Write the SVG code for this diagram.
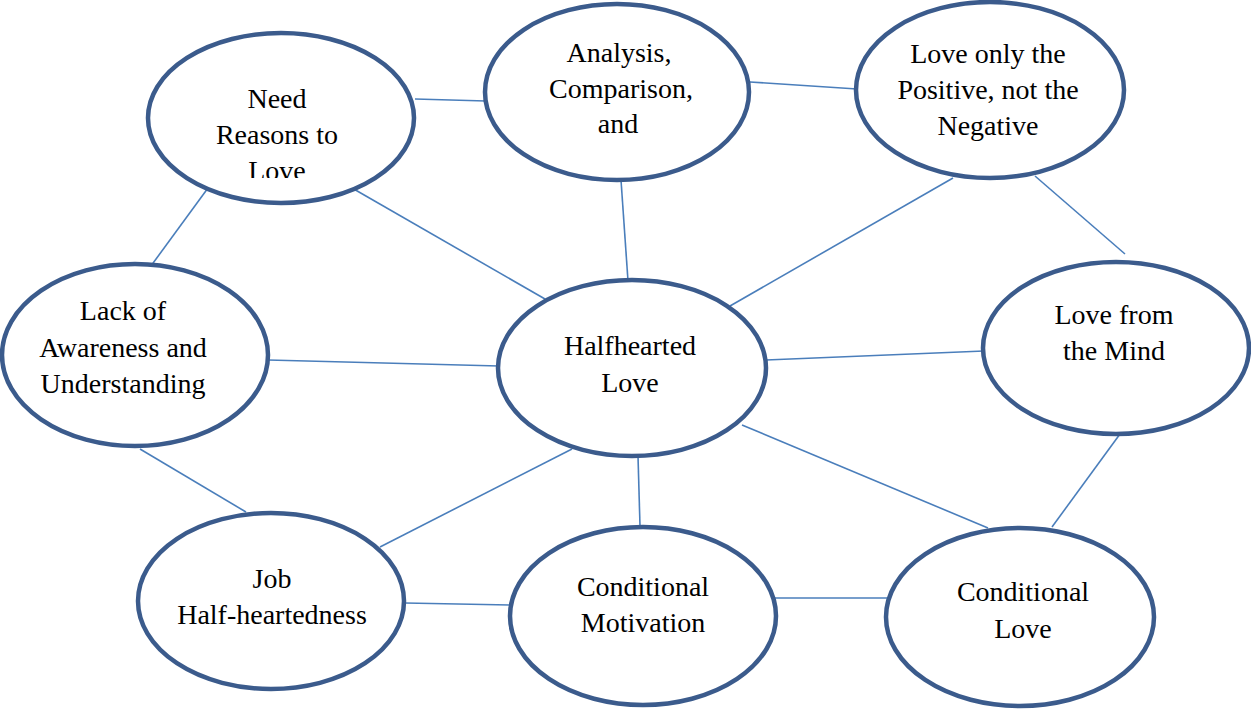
<svg xmlns="http://www.w3.org/2000/svg" width="1251" height="709" viewBox="0 0 1251 709">
  <style>
    .node ellipse { fill: #ffffff; stroke: #3b5b8c; stroke-width: 4.5; }
    .node text { font-family: "Liberation Serif", "Times New Roman", serif; font-size: 28px; fill: #000000; text-anchor: middle; }
    #connectors line { stroke: #4a7ebb; stroke-width: 1.6; }
  </style>
  <defs>
    <clipPath id="clip-reasons">
      <rect x="140" y="30" width="290" height="148"/>
    </clipPath>
  </defs>
  <rect width="1251" height="709" fill="#ffffff"/>

  <g id="connectors">
    <line x1="415" y1="99" x2="486" y2="101"/>
    <line x1="750" y1="82" x2="857" y2="89"/>
    <line x1="208" y1="188" x2="148" y2="270"/>
    <line x1="352" y1="188" x2="545" y2="299"/>
    <line x1="621" y1="180" x2="628" y2="281"/>
    <line x1="953" y1="178" x2="730" y2="306"/>
    <line x1="1035" y1="176" x2="1125" y2="254"/>
    <line x1="268" y1="360" x2="499" y2="366"/>
    <line x1="766" y1="360" x2="984" y2="351"/>
    <line x1="140" y1="449" x2="246" y2="512"/>
    <line x1="572" y1="449" x2="380" y2="547"/>
    <line x1="638" y1="456" x2="640" y2="526"/>
    <line x1="742" y1="425" x2="988" y2="528"/>
    <line x1="1120" y1="434" x2="1052" y2="527"/>
    <line x1="405" y1="603" x2="511" y2="605"/>
    <line x1="768" y1="598" x2="887" y2="598"/>
  </g>

  <g id="node-need-reasons" class="node">
    <ellipse cx="281" cy="118" rx="133" ry="85"/>
    <g clip-path="url(#clip-reasons)">
      <text x="277" y="108">Need</text>
      <text x="277" y="144">Reasons to</text>
      <text x="277" y="180">Love</text>
    </g>
  </g>

  <g id="node-analysis" class="node">
    <ellipse cx="617" cy="92" rx="132" ry="88"/>
    <text x="619" y="62">Analysis,</text>
    <text x="621" y="98">Comparison,</text>
    <text x="618" y="133">and</text>
  </g>

  <g id="node-love-positive" class="node">
    <ellipse cx="990" cy="90" rx="134" ry="88"/>
    <text x="988" y="63">Love only the</text>
    <text x="988" y="99">Positive, not the</text>
    <text x="988" y="135">Negative</text>
  </g>

  <g id="node-lack-awareness" class="node">
    <ellipse cx="135" cy="355" rx="133" ry="91"/>
    <text x="123" y="320">Lack of</text>
    <text x="123" y="357">Awareness and</text>
    <text x="123" y="393">Understanding</text>
  </g>

  <g id="node-halfhearted" class="node">
    <ellipse cx="632" cy="368" rx="134" ry="88"/>
    <text x="630" y="355">Halfhearted</text>
    <text x="630" y="392">Love</text>
  </g>

  <g id="node-love-mind" class="node">
    <ellipse cx="1116" cy="348" rx="133" ry="86"/>
    <text x="1114" y="324">Love from</text>
    <text x="1114" y="360">the Mind</text>
  </g>

  <g id="node-job" class="node">
    <ellipse cx="271" cy="601" rx="133" ry="88"/>
    <text x="272" y="588">Job</text>
    <text x="272" y="624">Half-heartedness</text>
  </g>

  <g id="node-conditional-motivation" class="node">
    <ellipse cx="643" cy="616" rx="133" ry="89"/>
    <text x="643" y="596">Conditional</text>
    <text x="643" y="632">Motivation</text>
  </g>

  <g id="node-conditional-love" class="node">
    <ellipse cx="1020" cy="617" rx="134" ry="89"/>
    <text x="1023" y="601">Conditional</text>
    <text x="1023" y="638">Love</text>
  </g>
</svg>
